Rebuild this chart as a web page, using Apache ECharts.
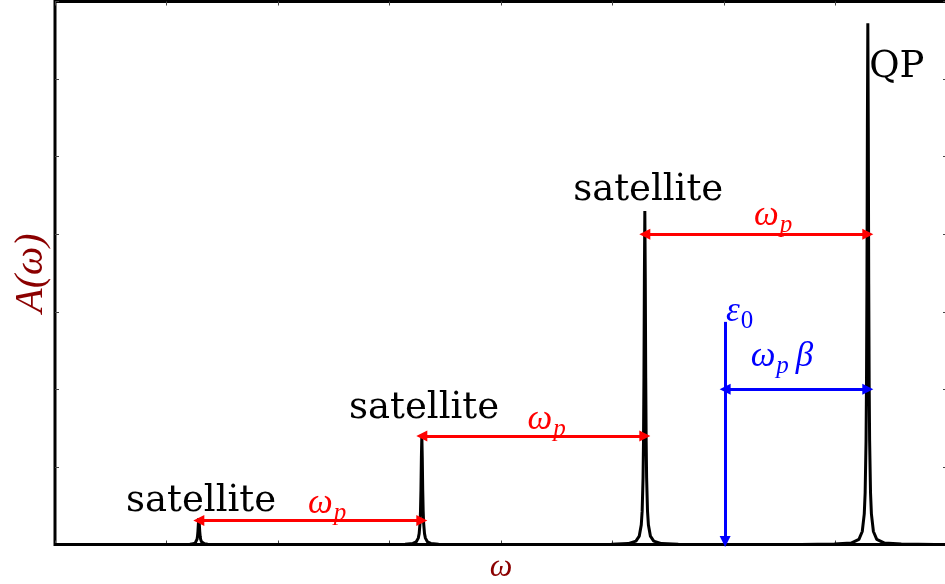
<!DOCTYPE html>
<html><head><meta charset="utf-8">
<script src="https://cdn.jsdelivr.net/npm/echarts@6/dist/echarts.min.js"></script>
<style>html,body{margin:0;padding:0;background:#fff}#c{width:945px;height:584px}</style>
</head><body><div id="c"></div>
<script>
// ---- data ----
const xTicks = [0, 1, 2, 3, 4, 5, 6, 7, 8];
const yTicks = [0, 1, 2, 3, 4, 5, 6, 7];
const peakNames = ['satellite', 'satellite', 'satellite', 'QP'];
const peakCenters = [1.29, 3.29, 5.29, 7.29];
const peakOffsets = [-0.6, -0.3, -0.15, -0.08, -0.05, -0.032, -0.024, -0.016, -0.012, -0.008, -0.004, 0,
                     0.004, 0.008, 0.012, 0.016, 0.024, 0.032, 0.05, 0.08, 0.15, 0.3, 0.6];
const sat1Heights = [0, 0, 0.001, 0.0034, 0.0085, 0.020, 0.034, 0.068, 0.105, 0.17, 0.27, 0.34,
                     0.27, 0.17, 0.105, 0.068, 0.034, 0.020, 0.0085, 0.0034, 0.001, 0, 0];
const sat2Heights = [0, 0.001, 0.004, 0.014, 0.035, 0.082, 0.14, 0.28, 0.43, 0.70, 1.12, 1.40,
                     1.12, 0.70, 0.43, 0.28, 0.14, 0.082, 0.035, 0.014, 0.004, 0.001, 0];
const sat3Heights = [0.001, 0.003, 0.012, 0.043, 0.108, 0.253, 0.43, 0.86, 1.32, 2.15, 3.44, 4.30,
                     3.44, 2.15, 1.32, 0.86, 0.43, 0.253, 0.108, 0.043, 0.012, 0.003, 0.001];
const qpHeights = [0.001, 0.005, 0.019, 0.067, 0.168, 0.395, 0.67, 1.34, 2.07, 3.36, 5.38, 6.72,
                   5.38, 3.36, 2.07, 1.34, 0.67, 0.395, 0.168, 0.067, 0.019, 0.005, 0.001];
// arrows: [xStart, xEnd, y]
const redArrows = [[1.29, 3.29, 0.31], [3.29, 5.29, 1.40], [5.29, 7.29, 4.00]];
const blueArrowH = [6.01, 7.29, 2.00];
// vertical arrow: [x, yTop, yBottom]
const blueArrowV = [6.01, 2.87, 0.04];
// label anchors
const satelliteLabelPos = [[1.31, 0.55], [3.31, 1.76], [5.32, 4.57]];
const qpLabelPos = [7.55, 6.15];
const wpLabelPos = [[2.44, 0.53], [4.41, 1.61], [6.44, 4.24]];
const eps0LabelPos = [6.14, 3.01];
const wpBetaLabelPos = [6.52, 2.42];

const peakHeights = [sat1Heights, sat2Heights, sat3Heights, qpHeights];
const spectrum = [[xTicks[0], 0]];
peakCenters.forEach((c, i) => peakOffsets.forEach((o, j) => spectrum.push([c + o, peakHeights[i][j]])));
spectrum.push([xTicks[xTicks.length - 1], 0]);

const RED = '#ff0000', BLUE = '#0000ff', DARKRED = '#8b0000';
const mathFont = "'Liberation Serif', 'DejaVu Serif', serif";
const textFont = "'DejaVu Serif', serif";
function mathRich(color) {
  return {
    w: { fontFamily: mathFont, fontStyle: 'italic', fontSize: 35, color: color, verticalAlign: 'top', lineHeight: 34 },
    b: { fontFamily: mathFont, fontStyle: 'italic', fontSize: 35, color: color, verticalAlign: 'top', lineHeight: 34, padding: [0, 0, 0, 7] },
    s: { fontFamily: mathFont, fontStyle: 'italic', fontSize: 25, color: color, padding: [20, 0, 0, 1], lineHeight: 26 },
    z: { fontFamily: mathFont, fontStyle: 'normal', fontSize: 25, color: color, padding: [20, 0, 0, 1], lineHeight: 26 }
  };
}
function textPoint(pos, txt) {
  return { coord: pos, label: { formatter: txt, fontFamily: textFont, fontSize: 37, color: '#000' } };
}
function mathPoint(pos, txt, color) {
  return { coord: pos, label: { formatter: txt, rich: mathRich(color) } };
}

const points = [];
satelliteLabelPos.forEach(p => points.push(textPoint(p, peakNames[0])));
points.push(textPoint(qpLabelPos, peakNames[3]));
wpLabelPos.forEach(p => points.push(mathPoint(p, '{w|ω}{s|p}', RED)));
points.push(mathPoint(eps0LabelPos, '{w|ε}{z|0}', BLUE));
points.push(mathPoint(wpBetaLabelPos, '{w|ω}{s|p}{b|β}', BLUE));

const arrows = [];
redArrows.forEach(a => arrows.push([
  { coord: [a[0], a[2]], symbol: 'triangle', lineStyle: { color: RED, width: 3, type: 'solid' } },
  { coord: [a[1], a[2]], symbol: 'triangle' }
]));
arrows.push([
  { coord: [blueArrowH[0], blueArrowH[2]], symbol: 'triangle', lineStyle: { color: BLUE, width: 3, type: 'solid' } },
  { coord: [blueArrowH[1], blueArrowH[2]], symbol: 'triangle' }
]);
arrows.push([
  { coord: [blueArrowV[0], blueArrowV[1]], symbol: 'none', lineStyle: { color: BLUE, width: 3, type: 'solid' } },
  { coord: [blueArrowV[0], blueArrowV[2]], symbol: 'triangle' }
]);

function tickStyle() { return { show: true, inside: true, length: 4, lineStyle: { color: '#444', width: 1 } }; }
const chart = echarts.init(document.getElementById('c'), null, { renderer: 'canvas' });
chart.setOption({
  animation: false,
  grid: { left: 55, right: -2, top: 1.5, bottom: 39.5, containLabel: false, outerBoundsMode: 'none',
          show: true, borderColor: '#000', borderWidth: 3, backgroundColor: '#fff' },
  xAxis: [
    { type: 'value', min: xTicks[0], max: xTicks[xTicks.length - 1], interval: 1, position: 'bottom',
      name: 'ω', nameLocation: 'middle', nameGap: 7,
      nameTextStyle: { fontFamily: mathFont, fontStyle: 'italic', fontSize: 32, color: DARKRED, verticalAlign: 'top', lineHeight: 32 },
      axisLine: { show: false, onZero: false }, axisTick: tickStyle(), axisLabel: { show: false }, splitLine: { show: false } },
    { type: 'value', min: xTicks[0], max: xTicks[xTicks.length - 1], interval: 1, position: 'top',
      axisLine: { show: false, onZero: false }, axisTick: tickStyle(), axisLabel: { show: false }, splitLine: { show: false } }
  ],
  yAxis: [
    { type: 'value', min: yTicks[0], max: yTicks[yTicks.length - 1], interval: 1, position: 'left',
      name: 'A(ω)', nameLocation: 'middle', nameGap: 4, nameRotate: 90,
      nameTextStyle: { fontFamily: mathFont, fontStyle: 'italic', fontSize: 40, color: DARKRED, lineHeight: 40 },
      axisLine: { show: false, onZero: false }, axisTick: tickStyle(), axisLabel: { show: false }, splitLine: { show: false } },
    { type: 'value', min: yTicks[0], max: yTicks[yTicks.length - 1], interval: 1, position: 'right',
      axisLine: { show: false, onZero: false }, axisTick: tickStyle(), axisLabel: { show: false }, splitLine: { show: false } }
  ],
  series: [{
    type: 'line', data: spectrum, showSymbol: false, symbol: 'none', smooth: false,
    lineStyle: { color: '#000', width: 3 }, clip: true, z: 3,
    markLine: { silent: true, animation: false, symbolSize: [11, 11], label: { show: false }, data: arrows, z: 4 },
    markPoint: { silent: true, animation: false, symbol: 'circle', symbolSize: 0,
      itemStyle: { color: 'rgba(0,0,0,0)' },
      label: { show: true, position: 'inside', align: 'center', verticalAlign: 'middle' },
      data: points }
  }]
});
</script></body></html>
